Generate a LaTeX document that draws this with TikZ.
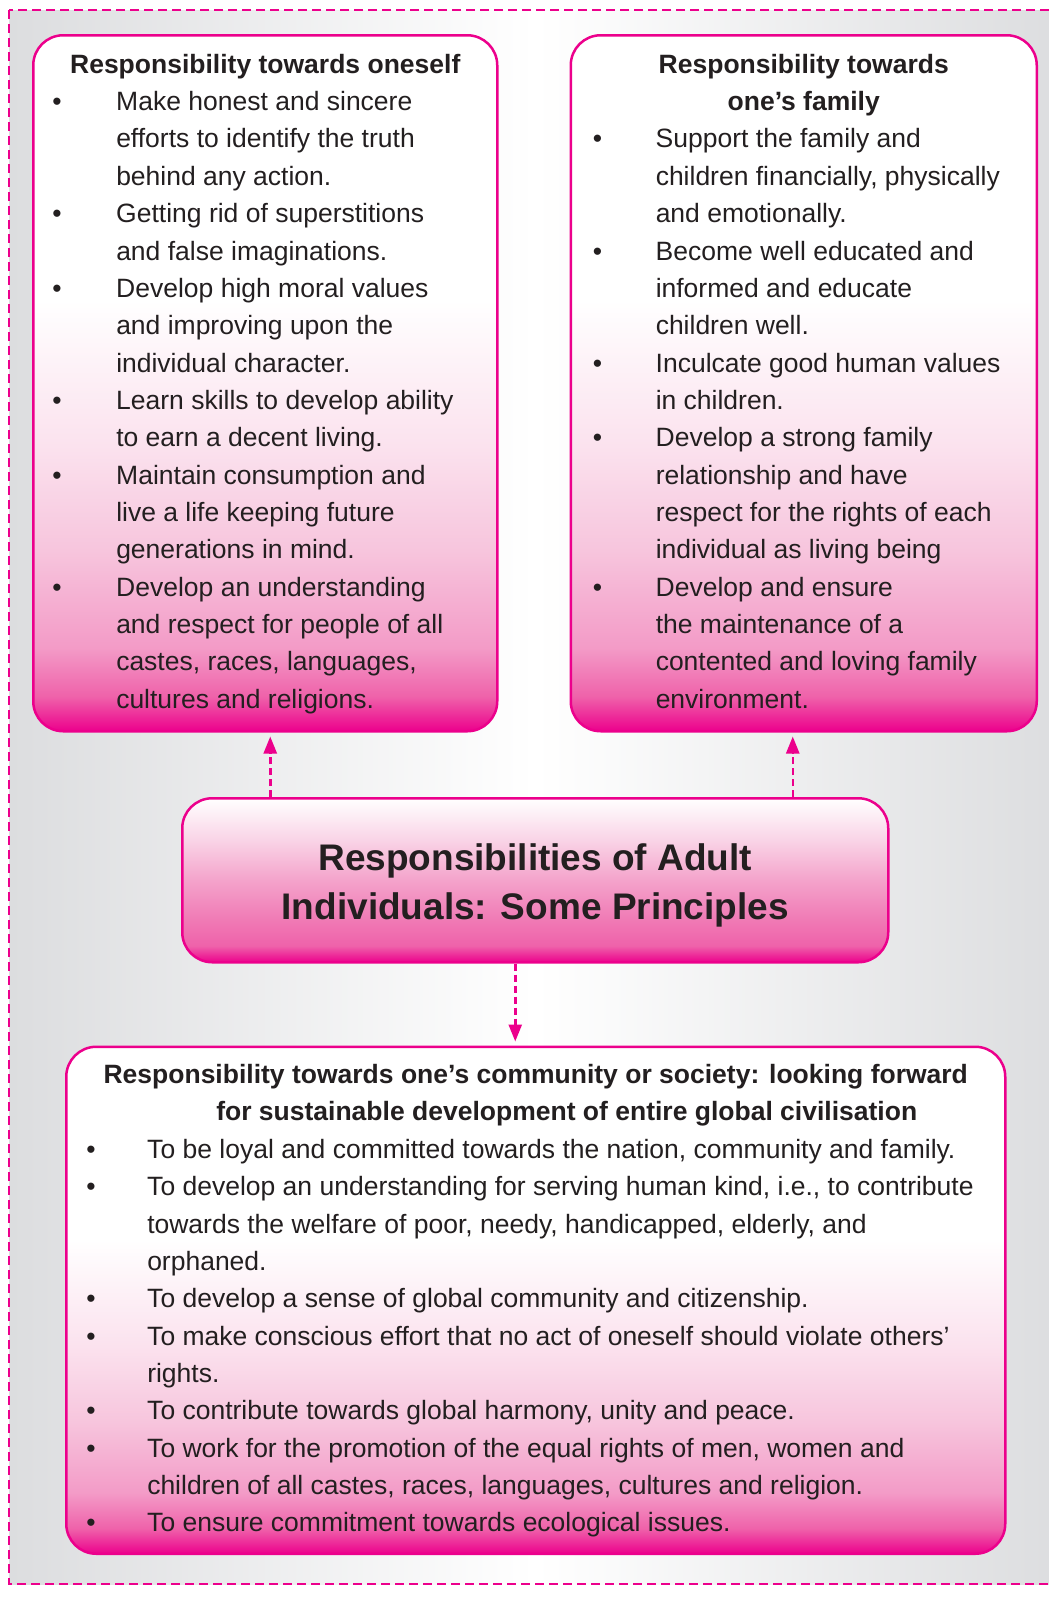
\documentclass[tikz,border=0pt]{standalone}
\usepackage{fontspec}
\setmainfont{Liberation Sans}
\usetikzlibrary{arrows.meta,positioning}

\definecolor{hotpink}{HTML}{EC008C}
\definecolor{pinkA}{HTML}{EF62AA}
\definecolor{pinkB}{HTML}{F39BC7}
\definecolor{pinkC}{HTML}{F7C5DD}
\definecolor{pinkD}{HTML}{FBE2EE}
\definecolor{pinkE}{HTML}{F07AB5}
\definecolor{pinkF}{HTML}{F4A3CB}
\definecolor{pinkG}{HTML}{F9D3E6}
\definecolor{bggray}{HTML}{DCDDDF}
\definecolor{textdark}{HTML}{231F20}

% white at the top, magenta only near the bottom
\pgfdeclareverticalshading{listshade}{100bp}{color(0bp)=(hotpink); color(25bp)=(hotpink);
  color(27.5bp)=(pinkA); color(31bp)=(pinkB); color(38bp)=(pinkC); color(45.5bp)=(pinkD);
  color(56bp)=(white); color(100bp)=(white)}
\pgfdeclareverticalshading{titleshade}{100bp}{color(0bp)=(hotpink); color(25bp)=(hotpink);
  color(30bp)=(pinkA); color(38bp)=(pinkE); color(50bp)=(pinkF); color(62bp)=(pinkG);
  color(75bp)=(white); color(100bp)=(white)}

\newcommand{\ttl}[2]{\multicolumn{2}{@{}c@{}}{\makebox[#1]{\bfseries #2}}}

\begin{document}
\begin{tikzpicture}[x=1pt, y=-1pt,
    box/.style={draw=hotpink, line width=2.5pt, rounded corners=30pt, shade, shading=listshade,
      text=textdark, font=\fontsize{26.5}{37.35}\selectfont, inner ysep=10pt},
    head/.style={draw=hotpink, line width=2.5pt, rounded corners=30pt, shade, shading=titleshade,
      text=textdark, font=\bfseries\fontsize{37}{49}\selectfont, align=center,
      minimum width=706pt, minimum height=164pt},
    ar/.style={hotpink, line width=2.5pt, dash pattern=on 7pt off 4pt,
      -{Triangle[width=13pt,length=17pt]}, shorten >=4pt}]

  % background and dashed frame
  \useasboundingbox (0,0) rectangle (1049,1604);
  \shade[left color=bggray, right color=bggray, middle color=white] (9,10) rectangle (1062,1584);
  \draw[hotpink, line width=2.2pt, dash pattern=on 9pt off 5pt] (9,10) rectangle (1062,1584);

  \node[box, anchor=north west, inner xsep=19pt, minimum width=464pt, minimum height=696pt] (self) at (32,34) {%
    \begin{tabular}{@{}p{64pt}@{}l@{}}
      \ttl{426pt}{Responsibility towards oneself}\\
      \textbullet & Make honest and sincere\\
                  & efforts to identify the truth\\
                  & behind any action.\\
      \textbullet & Getting rid of superstitions\\
                  & and false imaginations.\\
      \textbullet & Develop high moral values\\
                  & and improving upon the\\
                  & individual character.\\
      \textbullet & Learn skills to develop ability\\
                  & to earn a decent living.\\
      \textbullet & Maintain consumption and\\
                  & live a life keeping future\\
                  & generations in mind.\\
      \textbullet & Develop an understanding\\
                  & and respect for people of all\\
                  & castes, races, languages,\\
                  & cultures and religions.
    \end{tabular}};

  \node[box, right=71pt of self, inner xsep=22pt, minimum width=466pt, minimum height=696pt] (family) {%
    \begin{tabular}{@{}p{63pt}@{}l@{}}
      \ttl{422pt}{Responsibility towards}\\
      \ttl{422pt}{one's family}\\
      \textbullet & Support the family and\\
                  & children financially, physically\\
                  & and emotionally.\\
      \textbullet & Become well educated and\\
                  & informed and educate\\
                  & children well.\\
      \textbullet & Inculcate good human values\\
                  & in children.\\
      \textbullet & Develop a strong family\\
                  & relationship and have\\
                  & respect for the rights of each\\
                  & individual as living being\\
      \textbullet & Develop and ensure\\
                  & the maintenance of a\\
                  & contented and loving family\\
                  & environment.
    \end{tabular}};

  \node[head, anchor=north west] (adult) at (181,797) {\rule{0pt}{37pt}Responsibilities of Adult\\Individuals: Some Principles};

  \node[box, below=82pt of adult, xshift=0.5pt, inner xsep=20pt, minimum width=939pt, minimum height=507pt] (society) {%
    \begin{tabular}{@{}p{61pt}@{}l@{}}
      \ttl{899pt}{Responsibility towards one's community or society: looking forward}\\
      \ttl{899pt}{\hspace*{62pt}for sustainable development of entire global civilisation}\\
      \textbullet & To be loyal and committed towards the nation, community and family.\\
      \textbullet & To develop an understanding for serving human kind, i.e., to contribute\\
                  & towards the welfare of poor, needy, handicapped, elderly, and\\
                  & orphaned.\\
      \textbullet & To develop a sense of global community and citizenship.\\
      \textbullet & To make conscious effort that no act of oneself should violate others'\\
                  & rights.\\
      \textbullet & To contribute towards global harmony, unity and peace.\\
      \textbullet & To work for the promotion of the equal rights of men, women and\\
                  & children of all castes, races, languages, cultures and religion.\\
      \textbullet & To ensure commitment towards ecological issues.
    \end{tabular}};

  \draw[ar] ([xshift=5pt]self.south |- adult.north) -- ([xshift=5pt]self.south);
  \draw[ar] ([xshift=-11pt]family.south |- adult.north) -- ([xshift=-11pt]family.south);
  \draw[ar] ([xshift=-20pt]adult.south) -- ([xshift=-20pt]adult.south |- society.north);
\end{tikzpicture}
\end{document}
